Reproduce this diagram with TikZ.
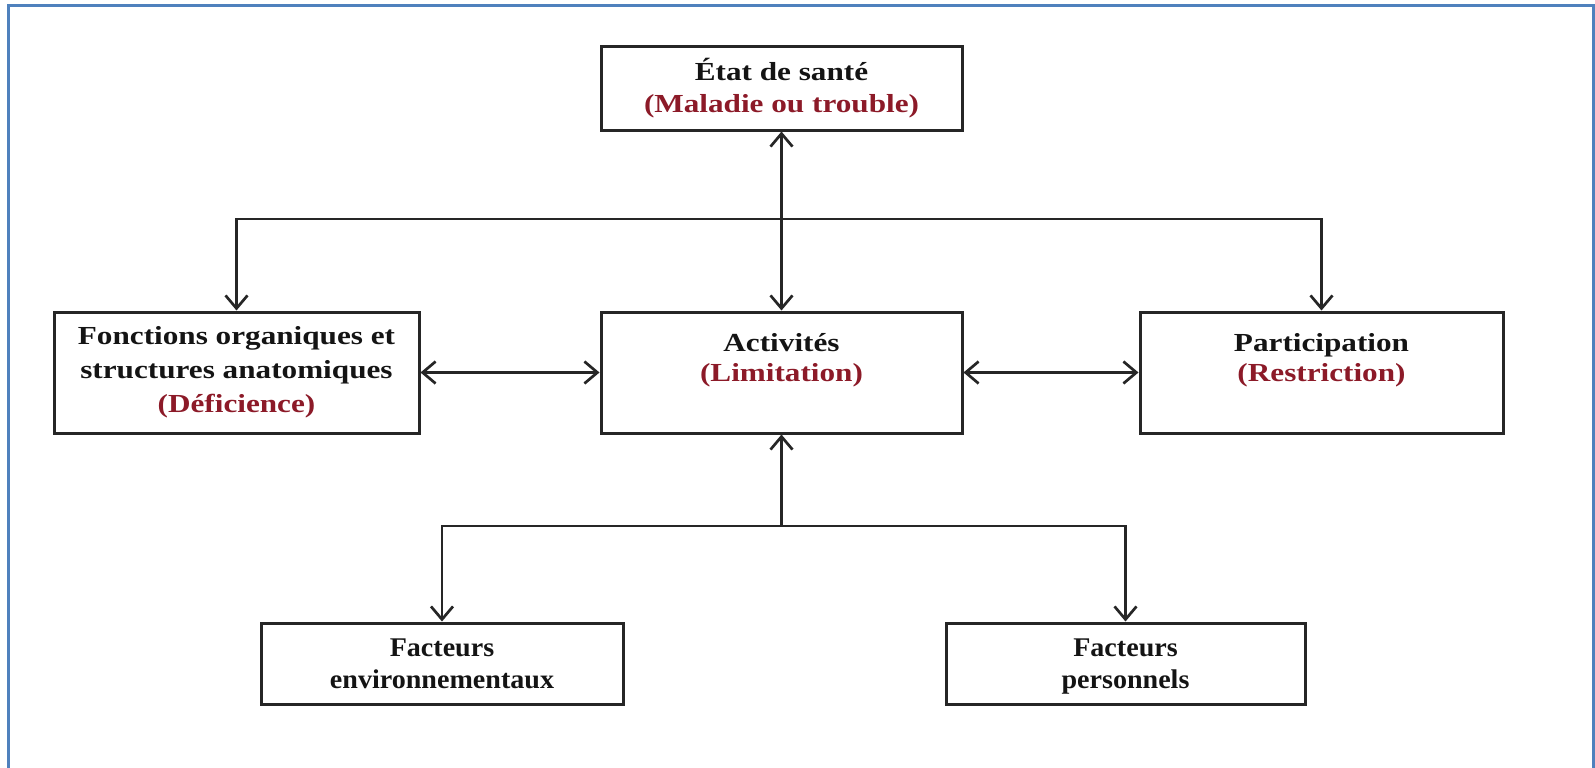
\documentclass[tikz,border=0pt]{standalone}
\usepackage{fontspec}
\setmainfont{Liberation Serif}
\newfontfamily\boxfont{Liberation Serif}[FakeStretch=1.2]
\newfontfamily\footfont{Liberation Serif}[FakeStretch=1.04]
\usetikzlibrary{arrows.meta}
\definecolor{framebl}{RGB}{79,129,189}
\definecolor{ink}{RGB}{38,38,38}
\definecolor{deepred}{RGB}{140,26,40}
\begin{document}
\begin{tikzpicture}[x=1pt,y=-1pt,
  >={Straight Barb[length=13pt,width=22pt]},
  box/.style={draw=ink, line width=3pt, rectangle, inner sep=0pt, align=center,
    text=black!92, font=\boxfont\bfseries\fontsize{26}{30}\selectfont},
  widebox/.style={box, font=\boxfont\bfseries\fontsize{26}{34}\selectfont},
  topbox/.style={box, font=\boxfont\bfseries\fontsize{26}{32}\selectfont},
  lowbox/.style={box, font=\footfont\bfseries\fontsize{27}{32}\selectfont},
  link/.style={draw=ink, line width=2.7pt}]
  \useasboundingbox (0,0) rectangle (1595,768);
  % outer frame
  \begin{scope}
    \clip (0,0) rectangle (1595,768);
    \draw[framebl, line width=3pt] (8,6) rectangle (1593.5,800);
  \end{scope}

  % boxes
  \node[topbox, minimum width=361, minimum height=83] (sante) at (781.5,88.5)
    {État de santé\\{\color{deepred}(Maladie ou trouble)}};
  \node[box, minimum width=361, minimum height=121] (activ) at (781.5,372.5)
    {Activités\\{\color{deepred}(Limitation)}\\\mbox{}};
  \node[widebox, minimum width=365, minimum height=121] (fonct) at (236.5,372.5)
    {Fonctions organiques et\\structures anatomiques\\{\color{deepred}(Déficience)}};
  \node[box, minimum width=363, minimum height=121] (partic) at (1321.5,372.5)
    {Participation\\{\color{deepred}(Restriction)}\\\mbox{}};
  \node[lowbox, minimum width=362, minimum height=81] (env) at (442,663.5)
    {Facteurs\\environnementaux};
  \node[lowbox, minimum width=359, minimum height=81] (pers) at (1125.5,663.5)
    {Facteurs\\\raisebox{0pt}[\height][0pt]{personnels}};

  % junction points
  \coordinate (jt) at (781.5,219);
  \coordinate (jb) at (781.5,526);

  % connectors
  \draw[link,<->] (sante.south) -- (activ.north);
  \draw[link,->] (jt) -| (fonct.north);
  \draw[link,->] (jt) -| (partic.north);
  \draw[link,<->] (fonct.east) -- (activ.west);
  \draw[link,<->] (activ.east) -- (partic.west);
  \draw[link,->] (jb) -- (activ.south);
  \draw[link,->] (jb) -| (env.north);
  \draw[link,->] (jb) -| (pers.north);
\end{tikzpicture}
\end{document}
